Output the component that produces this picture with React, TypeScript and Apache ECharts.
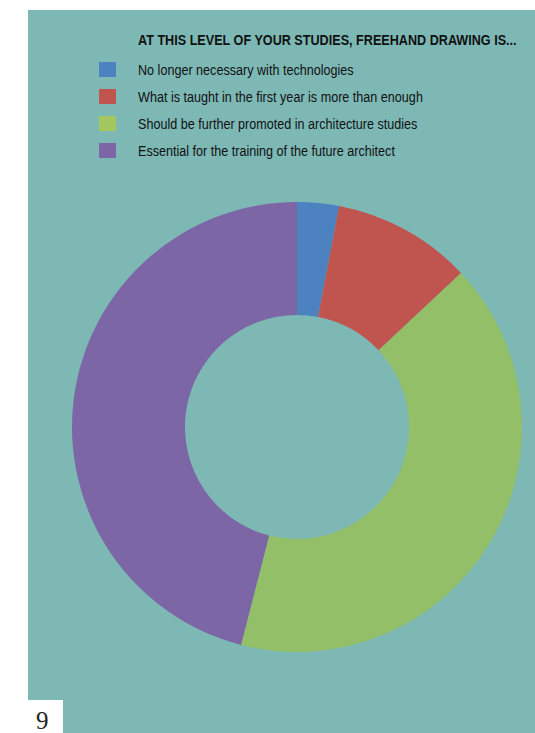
import React, { useEffect, useRef } from "react";
import * as echarts from "echarts";

const titleText = "AT THIS LEVEL OF YOUR STUDIES, FREEHAND DRAWING IS...";
const categories = [
  "No longer necessary with technologies",
  "What is taught in the first year is more than enough",
  "Should be further promoted in architecture studies",
  "Essential for the training of the future architect",
];
const values = [3, 10, 41, 46];
const colors = ["#4d82c0", "#c0554f", "#93bf69", "#7d66a6"];
const legendColors = ["#4d82c0", "#c0554f", "#a3c75c", "#7d66a6"];
const pageNumber = "9";

export default function App() {
  const ref = useRef<HTMLDivElement>(null);
  useEffect(() => {
    if (!ref.current) return;
    const chart = echarts.init(ref.current, undefined, { renderer: "svg" });
    const sans = "'Liberation Sans', Arial, sans-serif";
    const legendTop = 69.5;
    const legendStep = 27;
    const legendItems: any[] = [];
    categories.forEach((c, i) => {
      const cy = legendTop + i * legendStep;
      legendItems.push({
        type: "rect",
        shape: { x: 99, y: cy - 7.5, width: 17, height: 15 },
        style: { fill: legendColors[i] },
      });
      legendItems.push({
        type: "text",
        x: 138,
        y: cy,
        scaleX: 0.84,
        style: { text: c, fontFamily: sans, fontSize: 15, fill: "#111", verticalAlign: "middle", align: "left" },
      });
    });
    chart.setOption({
      animation: false,
      backgroundColor: "#ffffff",
      graphic: [
        { type: "rect", z: -10, shape: { x: 28, y: 10, width: 507, height: 723 }, style: { fill: "#7db8b5" } },
        { type: "rect", z: -9, shape: { x: 0, y: 700, width: 63, height: 33 }, style: { fill: "#ffffff" } },
        {
          type: "text",
          x: 36,
          y: 720,
          style: {
            text: pageNumber,
            fontFamily: "'Liberation Serif', 'DejaVu Serif', serif",
            fontSize: 25,
            fill: "#222",
            verticalAlign: "middle",
          },
        },
        {
          type: "text",
          x: 138,
          y: 40,
          scaleX: 0.815,
          style: {
            text: titleText,
            fontFamily: sans,
            fontSize: 15.5,
            fontWeight: "bold",
            fill: "#111",
            verticalAlign: "middle",
            align: "left",
          },
        },
        ...legendItems,
      ],
      series: [
        {
          type: "pie",
          center: [297, 427],
          radius: [112, 225],
          startAngle: 90,
          clockwise: true,
          label: { show: false },
          labelLine: { show: false },
          emphasis: { disabled: true },
          itemStyle: { borderWidth: 0 },
          data: categories.map((c, i) => ({ name: c, value: values[i], itemStyle: { color: colors[i] } })),
        },
      ],
    });
    return () => chart.dispose();
  }, []);
  return <div ref={ref} style={{ position: "fixed", left: 0, top: 0, width: 535, height: 733 }} />;
}
